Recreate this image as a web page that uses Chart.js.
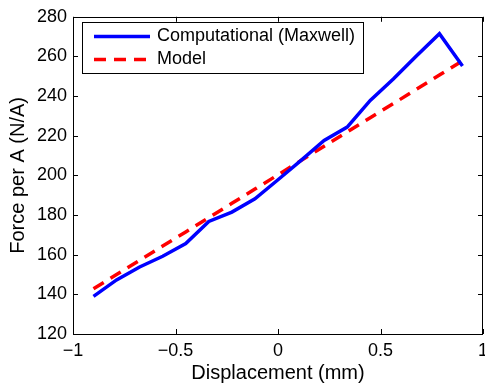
<!DOCTYPE html>
<html>
<head>
<meta charset="utf-8">
<script src="https://cdn.jsdelivr.net/npm/chart.js@4.4.0/dist/chart.umd.min.js"></script>
<style>
   html, body { margin: 0; padding: 0; background: #fff; overflow: hidden; }
   #wrap { width: 485px; height: 388px; }
</style>
</head>
<body>
<div id="wrap"><canvas id="myChart"></canvas></div>
<script>
// displacement (mm)
const displacement = [-0.9, -0.7875, -0.675, -0.5625, -0.45, -0.3375, -0.225, -0.1125, 0,
   0.1125, 0.225, 0.3375, 0.45, 0.5625, 0.675, 0.7875, 0.9];
// force per A, computational (Maxwell)
const computational = [139, 147.3, 153.8, 159.2, 165.6, 176.8, 181.5, 188.2, 197.8,
   207.6, 217.6, 224.4, 237.8, 248.6, 260.2, 271.5, 255.2];
// force per A, model
const model = [142.8, 150.0, 157.2, 164.4, 171.5, 178.7, 185.9, 193.1, 200.3,
   207.5, 214.7, 221.9, 229.1, 236.2, 243.4, 250.6, 257.8];

const xTicks = [-1, -0.5, 0, 0.5, 1];
const yTicks = [120, 140, 160, 180, 200, 220, 240, 260, 280];

const FONT = "'Liberation Sans', Arial, sans-serif";

function toPoints(xs, ys) {
   return xs.map((x, i) => ({ x: x, y: ys[i] }));
}

// box around the axes and inward ticks on all four sides
const framePlugin = {
   id: "frame",
   afterDatasetsDraw(chart) {
      const ctx = chart.ctx;
      const a = chart.chartArea;
      const xs = chart.scales.x;
      const ys = chart.scales.y;
      const tl = 5;
      ctx.save();
      ctx.strokeStyle = "#000";
      ctx.lineWidth = 1;
      ctx.beginPath();
      ctx.rect(Math.round(a.left) + 0.5, Math.round(a.top) + 0.5,
         Math.round(a.right - a.left) - 1, Math.round(a.bottom - a.top));
      xs.ticks.forEach(t => {
         const px = Math.round(xs.getPixelForValue(t.value)) + 0.5;
         ctx.moveTo(px, a.bottom);
         ctx.lineTo(px, a.bottom - tl);
         ctx.moveTo(px, a.top);
         ctx.lineTo(px, a.top + tl);
      });
      ys.ticks.forEach(t => {
         const py = Math.round(ys.getPixelForValue(t.value)) + 0.5;
         ctx.moveTo(a.left, py);
         ctx.lineTo(a.left + tl, py);
         ctx.moveTo(a.right, py);
         ctx.lineTo(a.right - tl, py);
      });
      ctx.stroke();
      ctx.restore();
   }
};

// legend box in the upper left corner
const legendBoxPlugin = {
   id: "legendBox",
   afterDraw(chart) {
      const ctx = chart.ctx;
      const bx = 82.5, by = 22.5, bw = 281, bh = 51;
      ctx.save();
      ctx.fillStyle = "#fff";
      ctx.fillRect(bx, by, bw, bh);
      ctx.strokeStyle = "#000";
      ctx.lineWidth = 1;
      ctx.strokeRect(bx, by, bw, bh);
      const rows = [36.5, 59.5];
      chart.data.datasets.forEach((ds, i) => {
         const y = rows[i];
         ctx.strokeStyle = ds.borderColor;
         ctx.lineWidth = ds.borderWidth;
         ctx.setLineDash(ds.borderDash || []);
         ctx.beginPath();
         ctx.moveTo(94, y);
         ctx.lineTo(150, y);
         ctx.stroke();
         ctx.setLineDash([]);
         ctx.fillStyle = "#000";
         ctx.font = "18px " + FONT;
         ctx.textBaseline = "middle";
         ctx.textAlign = "left";
         ctx.fillText(ds.label, 157, y);
      });
      ctx.restore();
   }
};

const ctx = document.getElementById("myChart").getContext("2d");
const myChart = new Chart(ctx, {
   type: "line",
   data: {
      datasets: [{
         label: "Computational (Maxwell)",
         data: toPoints(displacement, computational),
         borderColor: "rgb(0, 0, 255)",
         borderWidth: 3.5,
         pointRadius: 0,
         tension: 0,
         fill: false
      }, {
         label: "Model",
         data: toPoints(displacement, model),
         borderColor: "rgb(255, 0, 0)",
         borderWidth: 3.5,
         borderDash: [12, 8],
         borderCapStyle: "butt",
         pointRadius: 0,
         tension: 0,
         fill: false
      }]
   },
   options: {
      responsive: true,
      maintainAspectRatio: false,
      animation: false,
      layout: { padding: { top: 14, right: 2, left: 0, bottom: 0 } },
      plugins: {
         legend: { display: false },
         tooltip: { enabled: false }
      },
      scales: {
         x: {
            type: "linear",
            min: xTicks[0],
            max: xTicks[xTicks.length - 1],
            afterBuildTicks: (scale) => { scale.ticks = xTicks.map(v => ({ value: v })); },
            afterFit: (scale) => { scale.height = 54; scale.paddingRight = 0; scale.paddingLeft = 0; },
            grid: { display: false, drawTicks: false },
            border: { display: false },
            ticks: {
               padding: 6,
               color: "#000",
               font: { family: FONT, size: 18 },
               maxRotation: 0,
               callback: (v) => String(v).replace("-", "\u2212")
            },
            title: {
               display: true,
               text: "Displacement (mm)",
               color: "#000",
               font: { family: FONT, size: 20 },
               padding: { top: 0, bottom: 3 }
            }
         },
         y: {
            type: "linear",
            min: yTicks[0],
            max: yTicks[yTicks.length - 1],
            afterBuildTicks: (scale) => { scale.ticks = yTicks.map(v => ({ value: v })); },
            afterFit: (scale) => { scale.width = 73; },
            grid: { display: false, drawTicks: false },
            border: { display: false },
            ticks: {
               padding: 6,
               color: "#000",
               font: { family: FONT, size: 18 }
            },
            title: {
               display: true,
               text: "Force per A (N/A)",
               color: "#000",
               font: { family: FONT, size: 20 },
               padding: { top: 6, bottom: 0 }
            }
         }
      }
   },
   plugins: [framePlugin, legendBoxPlugin]
});
</script>
</body>
</html>
